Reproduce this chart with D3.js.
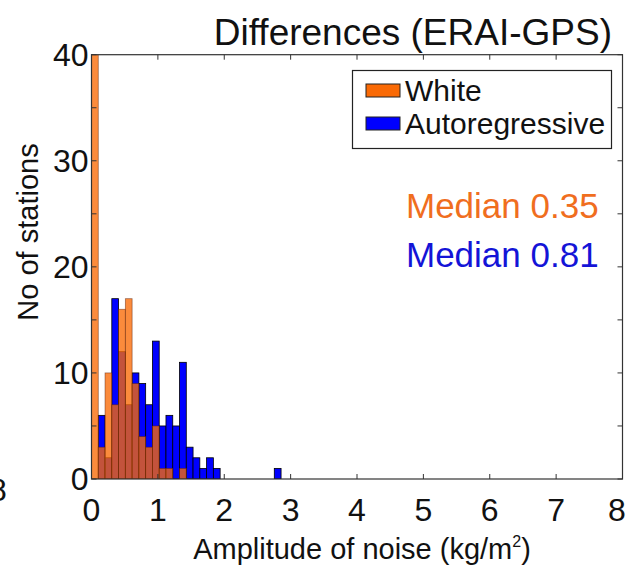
<!DOCTYPE html>
<html lang="en">
	<head>
		<meta charset="utf-8">
		<title>Differences (ERAI-GPS)</title>
		<script type="text/javascript" src="https://cdn.jsdelivr.net/npm/d3@7"></script>
		<style type="text/css">
			html, body{
				margin: 0;
				padding: 0;
				overflow: hidden;
				background-color: white;
			}
			text{
				font-family: 'Liberation Sans', Arial, Helvetica, sans-serif;
			}
			.tick_label{
				font-size: 32px;
				fill: #111;
			}
			.axis_label{
				font-size: 29px;
				fill: #111;
			}
		</style>
	</head>
	<body>
		<div id="chart"></div>
		<script type="text/javascript">

			// histogram bins start at 0, all the same width
			var binWidth = 0.102;
			// counts per bin, White noise model (orange)
			var whiteCounts = [40, 3, 10, 7, 16, 17, 9, 4, 3, 5, 1, 1, 0, 1];
			// counts per bin, Autoregressive model (blue)
			var arCounts = [0, 6, 2, 17, 12, 7, 10, 9, 7, 13, 5, 6, 5, 11, 3, 2, 1, 2, 1,
			                0, 0, 0, 0, 0, 0, 0, 0, 1];

			var xTicks = [0, 1, 2, 3, 4, 5, 6, 7, 8];
			var yTicks = [0, 10, 20, 30, 40];
			var yMinorTicks = [0, 5, 10, 15, 20, 25, 30, 35, 40];

			var legendNames = ["White", "Autoregressive"];
			var medianLabels = ["Median 0.35", "Median 0.81"];

			var w = 629, h = 567;
			// plot box (note: can't call it "top", that is window.top)
			var pLeft = 91.5, pRight = 622.5, pTop = 54.7, pBottom = 479;

			var orange = "rgb(250,106,5)";
			var blue = "rgb(0,0,255)";

			var svg = d3.select("#chart")
						.append("svg")
						.attr("width", w)
						.attr("height", h);

			var xScale = d3.scaleLinear().domain([0, 8]).range([pLeft, pRight]);
			var yScale = d3.scaleLinear().domain([0, 40]).range([pBottom, pTop]);

			svg.append("clipPath").attr("id", "clip")
				.append("rect")
				.attr("x", pLeft).attr("y", pTop)
				.attr("width", pRight - pLeft).attr("height", pBottom - pTop);

			var plot = svg.append("g").attr("clip-path", "url(#clip)");

			var toBins = function(counts){
				return counts.map(function(c, i){ return {i: i, c: c}; })
				             .filter(function(d){ return d.c > 0; });
			};

			//blue bars first, orange see-through on top
			plot.selectAll("rect.ar")
				.data(toBins(arCounts))
				.enter()
				.append("rect")
				.attr("class", "ar")
				.attr("x", function(d){ return xScale(d.i * binWidth); })
				.attr("width", function(d){ return xScale(binWidth) - xScale(0); })
				.attr("y", function(d){ return yScale(d.c); })
				.attr("height", function(d){ return yScale(0) - yScale(d.c); })
				.attr("fill", blue)
				.attr("stroke", "#000")
				.attr("stroke-width", 0.8);

			plot.selectAll("rect.white")
				.data(toBins(whiteCounts))
				.enter()
				.append("rect")
				.attr("class", "white")
				.attr("x", function(d){ return xScale(d.i * binWidth); })
				.attr("width", function(d){ return xScale(binWidth) - xScale(0); })
				.attr("y", function(d){ return yScale(d.c); })
				.attr("height", function(d){ return yScale(0) - yScale(d.c); })
				.attr("fill", orange)
				.attr("fill-opacity", 0.78)
				.attr("stroke", "rgb(90,30,10)")
				.attr("stroke-opacity", 0.55)
				.attr("stroke-width", 0.8);

			// frame and inward ticks on all four sides
			svg.append("rect")
				.attr("x", pLeft).attr("y", pTop)
				.attr("width", pRight - pLeft).attr("height", pBottom - pTop)
				.attr("fill", "none")
				.attr("stroke", "#333")
				.attr("stroke-width", 1.2);

			var tickLen = 5;
			xTicks.forEach(function(t){
				svg.append("line")
					.attr("x1", xScale(t)).attr("x2", xScale(t))
					.attr("y1", pBottom).attr("y2", pBottom - tickLen)
					.attr("stroke", "#333");
				svg.append("line")
					.attr("x1", xScale(t)).attr("x2", xScale(t))
					.attr("y1", pTop).attr("y2", pTop + tickLen)
					.attr("stroke", "#333");
			});
			yMinorTicks.forEach(function(t){
				svg.append("line")
					.attr("x1", pLeft).attr("x2", pLeft + tickLen)
					.attr("y1", yScale(t)).attr("y2", yScale(t))
					.attr("stroke", "#333");
				svg.append("line")
					.attr("x1", pRight).attr("x2", pRight - tickLen)
					.attr("y1", yScale(t)).attr("y2", yScale(t))
					.attr("stroke", "#333");
			});

			svg.selectAll("text.xt")
				.data(xTicks)
				.enter()
				.append("text")
				.attr("class", "tick_label xt")
				.attr("text-anchor", "middle")
				.attr("x", function(d){ return Math.min(xScale(d), 617); })
				.attr("y", pBottom + 42)
				.text(function(d){ return d; });

			svg.selectAll("text.yt")
				.data(yTicks)
				.enter()
				.append("text")
				.attr("class", "tick_label yt")
				.attr("text-anchor", "end")
				.attr("x", pLeft - 3)
				.attr("y", function(d){ return yScale(d) + 11; })
				.text(function(d){ return d; });

			// cut-off label from the panel to the left
			svg.append("text")
				.attr("class", "tick_label")
				.attr("text-anchor", "middle")
				.attr("x", -2)
				.attr("y", 501)
				.text("8");

			svg.append("text")
				.attr("text-anchor", "end")
				.attr("x", 612)
				.attr("y", 45)
				.style("font-size", "37px")
				.attr("fill", "#111")
				.text("Differences (ERAI-GPS)");

			svg.append("text")
				.attr("class", "axis_label")
				.attr("text-anchor", "middle")
				.attr("transform", "translate(38,232) rotate(-90)")
				.text("No of stations");

			var xl = svg.append("text")
				.attr("class", "axis_label")
				.attr("text-anchor", "middle")
				.attr("x", 362)
				.attr("y", 559);
			xl.append("tspan").text("Amplitude of noise (kg/m");
			xl.append("tspan").attr("dy", -12).style("font-size", "16px").text("2");
			xl.append("tspan").attr("dy", 12).text(")");

			// legend
			var lg = svg.append("g");
			lg.append("rect")
				.attr("x", 352.5).attr("y", 70.5)
				.attr("width", 259).attr("height", 78)
				.attr("fill", "white")
				.attr("stroke", "#222")
				.attr("stroke-width", 1.2);
			var legendColors = [orange, blue];
			legendNames.forEach(function(name, i){
				lg.append("rect")
					.attr("x", 366).attr("y", 84 + i * 33)
					.attr("width", 34).attr("height", 13)
					.attr("fill", legendColors[i])
					.attr("stroke", "#222")
					.attr("stroke-width", 1);
				lg.append("text")
					.attr("x", 405).attr("y", 101 + i * 33)
					.style("font-size", "30px")
					.attr("fill", "#111")
					.text(name);
			});

			var medianColors = ["rgb(240,110,30)", "rgb(20,20,215)"];
			medianLabels.forEach(function(m, i){
				svg.append("text")
					.attr("x", 406)
					.attr("y", 218 + i * 49)
					.style("font-size", "35px")
					.attr("fill", medianColors[i])
					.text(m);
			});

		</script>
	</body>
</html>
